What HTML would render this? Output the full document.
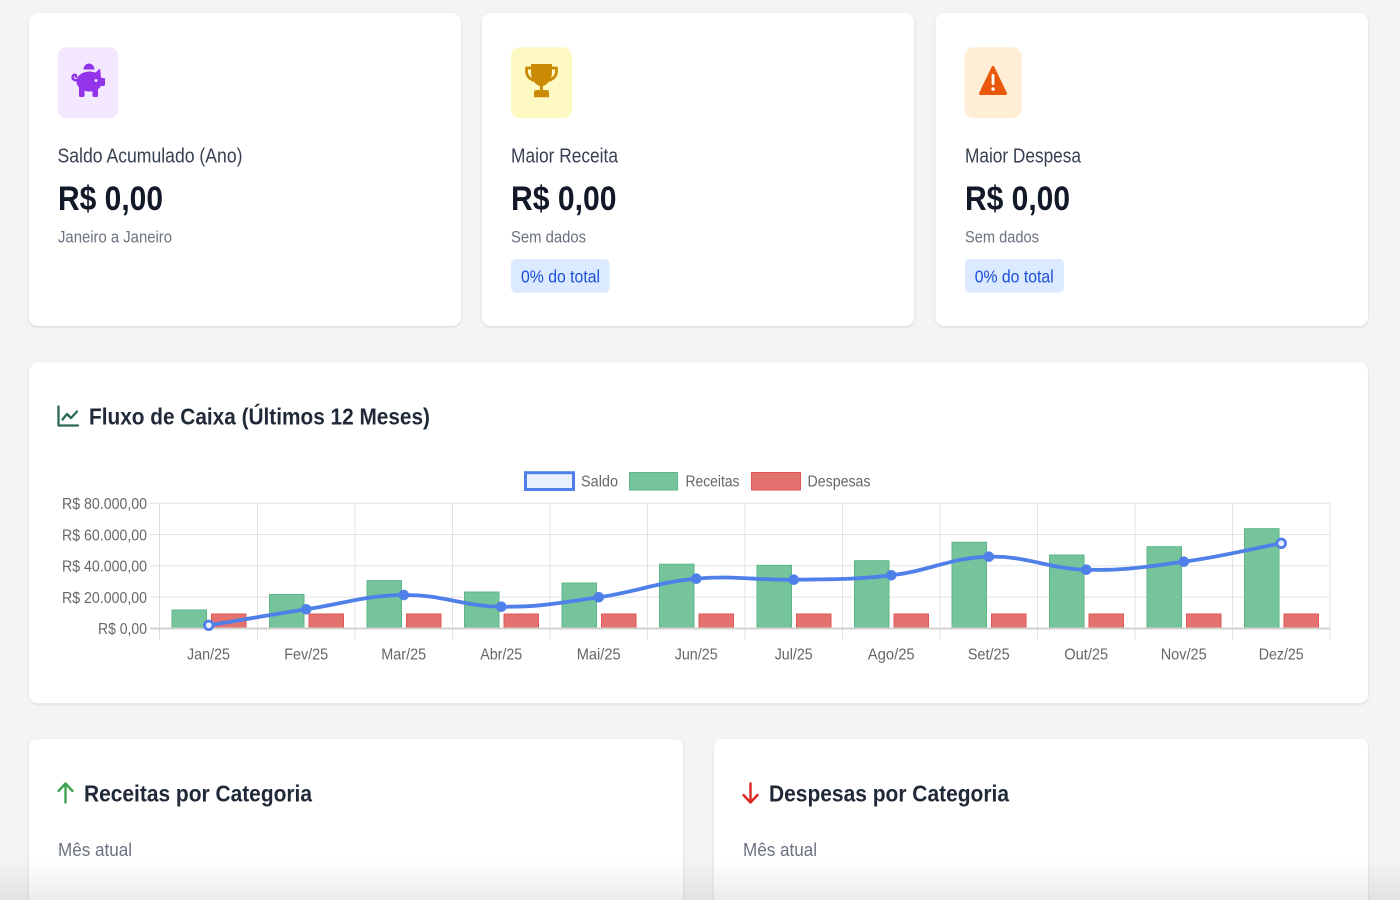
<!DOCTYPE html>
<html>
<head>
<meta charset="utf-8">
<style>
  html,body{margin:0;padding:0;background:#f3f4f6;width:1400px;height:900px;overflow:hidden;}
  #wrap{position:relative;width:1400px;height:900px;overflow:hidden;background:#f3f4f6;}
  svg{display:block;}
  text{font-family:"Liberation Sans", Arial, sans-serif;}
</style>
</head>
<body>
<div id="wrap">
<svg width="1400" height="900" viewBox="0 0 1400 900" xmlns="http://www.w3.org/2000/svg">
  <defs>
    <filter id="sh" x="-5%" y="-5%" width="110%" height="115%">
      <feDropShadow dx="0" dy="1" stdDeviation="1.4" flood-color="#000" flood-opacity="0.13"/>
    </filter>
    <linearGradient id="fade" x1="0" y1="0" x2="0" y2="1">
      <stop offset="0" stop-color="#000" stop-opacity="0"/>
      <stop offset="1" stop-color="#000" stop-opacity="0.075"/>
    </linearGradient>
    <clipPath id="frame"><rect x="0" y="0" width="1400" height="900"/></clipPath>
  </defs>

  <g clip-path="url(#frame)">
  <!-- background -->
  <rect x="0" y="0" width="1400" height="900" fill="#f3f4f6"/>

  <!-- ===== Top cards ===== -->
  <rect x="29" y="13" width="432" height="313" rx="9" fill="#fff" filter="url(#sh)"/>
  <rect x="482" y="13" width="432" height="313" rx="9" fill="#fff" filter="url(#sh)"/>
  <rect x="935.5" y="13" width="432.5" height="313" rx="9" fill="#fff" filter="url(#sh)"/>

  <!-- Card 1 -->
  <rect x="57.5" y="47.3" width="61" height="71" rx="9" fill="#f3e8ff"/>
  <g fill="#9333ea">
    <path d="M83.5,69.5 a5,5.5 0 0 1 11,0 z"/>
    <ellipse cx="89.5" cy="81.5" rx="13" ry="10"/>
    <path d="M95,73 L100,68.5 L101,76 z"/>
    <rect x="100" y="78" width="5" height="8" rx="1.5"/>
    <rect x="79" y="86" width="5.5" height="11" rx="1.2"/>
    <rect x="92.5" y="86" width="5.5" height="11" rx="1.2"/>
  </g>
  <path d="M77.5,80 C74,81 71.5,78.5 73,75.8 C74.3,73.8 77,75 76,77" fill="none" stroke="#9333ea" stroke-width="2.4" stroke-linecap="round"/>
  <circle cx="96" cy="80.5" r="1.4" fill="#fff"/>

  <text x="57.5" y="162.5" font-size="20.5" fill="#374151" textLength="185" lengthAdjust="spacingAndGlyphs">Saldo Acumulado (Ano)</text>
  <text x="58" y="210" font-size="34" font-weight="bold" fill="#111827" textLength="105" lengthAdjust="spacingAndGlyphs">R$ 0,00</text>
  <text x="58" y="242.7" font-size="17" fill="#6b7280" textLength="114" lengthAdjust="spacingAndGlyphs">Janeiro a Janeiro</text>

  <!-- Card 2 -->
  <rect x="511" y="47.3" width="61" height="71" rx="9" fill="#fef9c3"/>
  <g fill="#ca8a04">
    <path d="M531,64 H552 V72 C552,80 547,85 543,86 V90 H546.5 Q549,90 549,92.5 V97.3 H534 V92.5 Q534,90 536.5,90 H540 V86 C536,85 531,80 531,72 Z"/>
  </g>
  <path d="M531.5,68 H526.5 V71 C526.5,76 530,79 534,80.5 M551.5,68 H556.5 V71 C556.5,76 553,79 549,80.5" fill="none" stroke="#ca8a04" stroke-width="2.8" stroke-linejoin="round"/>

  <text x="511" y="162.5" font-size="20.5" fill="#374151" textLength="107" lengthAdjust="spacingAndGlyphs">Maior Receita</text>
  <text x="511" y="210" font-size="34" font-weight="bold" fill="#111827" textLength="105.5" lengthAdjust="spacingAndGlyphs">R$ 0,00</text>
  <text x="511" y="242.7" font-size="17" fill="#6b7280" textLength="75" lengthAdjust="spacingAndGlyphs">Sem dados</text>
  <rect x="511" y="259" width="98.7" height="33.7" rx="5" fill="#dbeafe"/>
  <text x="521" y="282.6" font-size="17.5" fill="#1d4ed8" textLength="79" lengthAdjust="spacingAndGlyphs">0% do total</text>

  <!-- Card 3 -->
  <rect x="964.7" y="47.3" width="57" height="71" rx="9" fill="#ffedd5"/>
  <path d="M993,67.5 L980.5,93.5 L1005.5,93.5 Z" fill="#ea580c" stroke="#ea580c" stroke-width="3" stroke-linejoin="round"/>
  <rect x="991.6" y="74" width="2.8" height="11" rx="1.2" fill="#fff"/>
  <circle cx="993" cy="89" r="1.7" fill="#fff"/>

  <text x="965" y="162.5" font-size="20.5" fill="#374151" textLength="116" lengthAdjust="spacingAndGlyphs">Maior Despesa</text>
  <text x="965" y="210" font-size="34" font-weight="bold" fill="#111827" textLength="105" lengthAdjust="spacingAndGlyphs">R$ 0,00</text>
  <text x="965" y="242.7" font-size="17" fill="#6b7280" textLength="74" lengthAdjust="spacingAndGlyphs">Sem dados</text>
  <rect x="965" y="259" width="99" height="33.7" rx="5" fill="#dbeafe"/>
  <text x="974.7" y="282.6" font-size="17.5" fill="#1d4ed8" textLength="79" lengthAdjust="spacingAndGlyphs">0% do total</text>

  <!-- ===== Chart card ===== -->
  <rect x="29" y="362.5" width="1339" height="340.8" rx="9" fill="#fff" filter="url(#sh)"/>

  <!-- chart icon -->
  <g fill="none" stroke="#2d6a4f" stroke-width="2.3" stroke-linecap="round" stroke-linejoin="round">
    <path d="M58.5,406.5 V425.5 H78"/>
    <path d="M62.5,419.5 L67,414 L71,418 L77,411.5"/>
  </g>
  <text x="89" y="424.3" font-size="23" font-weight="bold" fill="#1f2937" textLength="341" lengthAdjust="spacingAndGlyphs">Fluxo de Caixa (Últimos 12 Meses)</text>

  <!-- legend -->
  <rect x="525.5" y="472.7" width="48" height="16.8" fill="#eaf0fc" stroke="#4f7fe8" stroke-width="3"/>
  <text x="581" y="486.3" font-size="15.5" fill="#666" textLength="37" lengthAdjust="spacingAndGlyphs">Saldo</text>
  <rect x="629.5" y="472.5" width="48" height="17.5" fill="#76c49b" stroke="#5cb685" stroke-width="1"/>
  <text x="685.5" y="486.3" font-size="15.5" fill="#666" textLength="54" lengthAdjust="spacingAndGlyphs">Receitas</text>
  <rect x="751.5" y="472.5" width="49" height="17.5" fill="#e4736f" stroke="#e05555" stroke-width="1"/>
  <text x="807.5" y="486.3" font-size="15.5" fill="#666" textLength="63" lengthAdjust="spacingAndGlyphs">Despesas</text>

  <!-- grid -->
  <g stroke="#e3e3e3" stroke-width="1">
    <line x1="150" y1="503.3" x2="1330" y2="503.3"/>
    <line x1="150" y1="534.5" x2="1330" y2="534.5"/>
    <line x1="150" y1="565.8" x2="1330" y2="565.8"/>
    <line x1="150" y1="597.1" x2="1330" y2="597.1"/>
    <line x1="257.5" y1="503.3" x2="257.5" y2="639.5"/>
    <line x1="355" y1="503.3" x2="355" y2="639.5"/>
    <line x1="452.5" y1="503.3" x2="452.5" y2="639.5"/>
    <line x1="550" y1="503.3" x2="550" y2="639.5"/>
    <line x1="647.5" y1="503.3" x2="647.5" y2="639.5"/>
    <line x1="745" y1="503.3" x2="745" y2="639.5"/>
    <line x1="842.5" y1="503.3" x2="842.5" y2="639.5"/>
    <line x1="940" y1="503.3" x2="940" y2="639.5"/>
    <line x1="1037.5" y1="503.3" x2="1037.5" y2="639.5"/>
    <line x1="1135" y1="503.3" x2="1135" y2="639.5"/>
    <line x1="1232.5" y1="503.3" x2="1232.5" y2="639.5"/>
    <line x1="1330" y1="503.3" x2="1330" y2="639.5"/>
  </g>
  <line x1="159.5" y1="503.3" x2="159.5" y2="639.5" stroke="#dcdcdc" stroke-width="1"/>

  <!-- y labels -->
  <g font-size="16" fill="#666" text-anchor="end">
    <text x="147" y="509" textLength="85" lengthAdjust="spacingAndGlyphs">R$ 80.000,00</text>
    <text x="147" y="540.3" textLength="85" lengthAdjust="spacingAndGlyphs">R$ 60.000,00</text>
    <text x="147" y="571.6" textLength="85" lengthAdjust="spacingAndGlyphs">R$ 40.000,00</text>
    <text x="147" y="602.9" textLength="85" lengthAdjust="spacingAndGlyphs">R$ 20.000,00</text>
    <text x="147" y="634.2" textLength="49" lengthAdjust="spacingAndGlyphs">R$ 0,00</text>
  </g>

  <!-- bars: Receitas -->
  <g fill="#76c49b" stroke="#5cb685" stroke-width="1">
    <rect x="172" y="610" width="34.5" height="18.3"/>
    <rect x="269.5" y="594.5" width="34.5" height="33.8"/>
    <rect x="367" y="580.6" width="34.5" height="47.7"/>
    <rect x="464.5" y="592" width="34.5" height="36.3"/>
    <rect x="562" y="583" width="34.5" height="45.3"/>
    <rect x="659.5" y="564.2" width="34.5" height="64.1"/>
    <rect x="757" y="565.3" width="34.5" height="63"/>
    <rect x="854.5" y="560.7" width="34.5" height="67.6"/>
    <rect x="952" y="542.3" width="34.5" height="86"/>
    <rect x="1049.5" y="555" width="34.5" height="73.3"/>
    <rect x="1147" y="546.7" width="34.5" height="81.6"/>
    <rect x="1244.5" y="528.7" width="34.5" height="99.6"/>
  </g>
  <!-- bars: Despesas -->
  <g fill="#e4736f" stroke="#e05555" stroke-width="1">
    <rect x="211.5" y="614" width="34.5" height="14.3"/>
    <rect x="309" y="614" width="34.5" height="14.3"/>
    <rect x="406.5" y="614" width="34.5" height="14.3"/>
    <rect x="504" y="614" width="34.5" height="14.3"/>
    <rect x="601.5" y="614" width="34.5" height="14.3"/>
    <rect x="699" y="614" width="34.5" height="14.3"/>
    <rect x="796.5" y="614" width="34.5" height="14.3"/>
    <rect x="894" y="614" width="34.5" height="14.3"/>
    <rect x="991.5" y="614" width="34.5" height="14.3"/>
    <rect x="1089" y="614" width="34.5" height="14.3"/>
    <rect x="1186.5" y="614" width="34.5" height="14.3"/>
    <rect x="1284" y="614" width="34.5" height="14.3"/>
  </g>

  <!-- zero line -->
  <line x1="150" y1="628.5" x2="1330" y2="628.5" stroke="#d2d2d2" stroke-width="2"/>

  <!-- x labels -->
  <g font-size="16" fill="#666" text-anchor="middle">
    <text x="208.5" y="659.5" textLength="43" lengthAdjust="spacingAndGlyphs">Jan/25</text>
    <text x="306.2" y="659.5" textLength="44" lengthAdjust="spacingAndGlyphs">Fev/25</text>
    <text x="403.7" y="659.5" textLength="45" lengthAdjust="spacingAndGlyphs">Mar/25</text>
    <text x="501.2" y="659.5" textLength="42" lengthAdjust="spacingAndGlyphs">Abr/25</text>
    <text x="598.7" y="659.5" textLength="44" lengthAdjust="spacingAndGlyphs">Mai/25</text>
    <text x="696.2" y="659.5" textLength="43" lengthAdjust="spacingAndGlyphs">Jun/25</text>
    <text x="793.7" y="659.5" textLength="38" lengthAdjust="spacingAndGlyphs">Jul/25</text>
    <text x="891.2" y="659.5" textLength="47" lengthAdjust="spacingAndGlyphs">Ago/25</text>
    <text x="988.7" y="659.5" textLength="42" lengthAdjust="spacingAndGlyphs">Set/25</text>
    <text x="1086.2" y="659.5" textLength="44" lengthAdjust="spacingAndGlyphs">Out/25</text>
    <text x="1183.7" y="659.5" textLength="46" lengthAdjust="spacingAndGlyphs">Nov/25</text>
    <text x="1281.2" y="659.5" textLength="45" lengthAdjust="spacingAndGlyphs">Dez/25</text>
  </g>

  <!-- Saldo line -->
  <path d="M208.75,625.3 C247.75,618.9 267.19,615.37 306.25,609.3 C345.19,603.25 364.68,595.52 403.75,595 C442.67,594.48 462.15,606.24 501.25,606.7 C540.15,607.16 560.01,602.86 598.75,597.3 C638.0,591.66 656.9,582.25 696.25,578.7 C734.9,575.21 754.75,580.38 793.75,579.7 C832.75,579.02 852.58,579.86 891.25,575.3 C930.58,570.66 949.57,557.83 988.75,556.7 C1027.57,555.59 1047.15,568.7 1086.25,569.7 C1125.15,570.7 1145.02,566.94 1183.75,561.7 C1223.02,556.38 1242.25,550.66 1281.25,543.3" fill="none" stroke="#4f7fe8" stroke-width="3.8" stroke-linecap="round"/>
  <g fill="#4f7fe8">
    <circle cx="306.25" cy="609.3" r="5.3"/>
    <circle cx="403.75" cy="595" r="5.3"/>
    <circle cx="501.25" cy="606.7" r="5.3"/>
    <circle cx="598.75" cy="597.3" r="5.3"/>
    <circle cx="696.25" cy="578.7" r="5.3"/>
    <circle cx="793.75" cy="579.7" r="5.3"/>
    <circle cx="891.25" cy="575.3" r="5.3"/>
    <circle cx="988.75" cy="556.7" r="5.3"/>
    <circle cx="1086.25" cy="569.7" r="5.3"/>
    <circle cx="1183.75" cy="561.7" r="5.3"/>
  </g>
  <circle cx="208.75" cy="625.3" r="4.3" fill="#eaf0fc" stroke="#4f7fe8" stroke-width="2.8"/>
  <circle cx="1281.25" cy="543.3" r="4.3" fill="#eaf0fc" stroke="#4f7fe8" stroke-width="2.8"/>

  <!-- ===== Bottom cards (cut at frame bottom) ===== -->
  <path d="M29,900 V748 Q29,739 38,739 H674 Q683,739 683,748 V900 Z" fill="#fff" filter="url(#sh)"/>
  <path d="M714,900 V748 Q714,739 723,739 H1359 Q1368,739 1368,748 V900 Z" fill="#fff" filter="url(#sh)"/>

  <g fill="none" stroke="#3fa452" stroke-width="2.4" stroke-linecap="round" stroke-linejoin="round">
    <path d="M65.5,802.5 V784.5"/>
    <path d="M58.5,791 L65.5,783.5 L72.5,791"/>
  </g>
  <text x="84" y="801.7" font-size="23" font-weight="bold" fill="#1f2937" textLength="228" lengthAdjust="spacingAndGlyphs">Receitas por Categoria</text>
  <text x="58" y="856" font-size="18.5" fill="#6b7280" textLength="74" lengthAdjust="spacingAndGlyphs">Mês atual</text>

  <g fill="none" stroke="#dc2626" stroke-width="2.4" stroke-linecap="round" stroke-linejoin="round">
    <path d="M750.5,783.5 V801.5"/>
    <path d="M743.5,795 L750.5,802.5 L757.5,795"/>
  </g>
  <text x="769" y="801.7" font-size="23" font-weight="bold" fill="#1f2937" textLength="240" lengthAdjust="spacingAndGlyphs">Despesas por Categoria</text>
  <text x="743" y="856" font-size="18.5" fill="#6b7280" textLength="74" lengthAdjust="spacingAndGlyphs">Mês atual</text>

  <!-- bottom fade -->
  <rect x="0" y="858" width="1400" height="42" fill="url(#fade)"/>
  </g>
</svg>
</div>
</body>
</html>
